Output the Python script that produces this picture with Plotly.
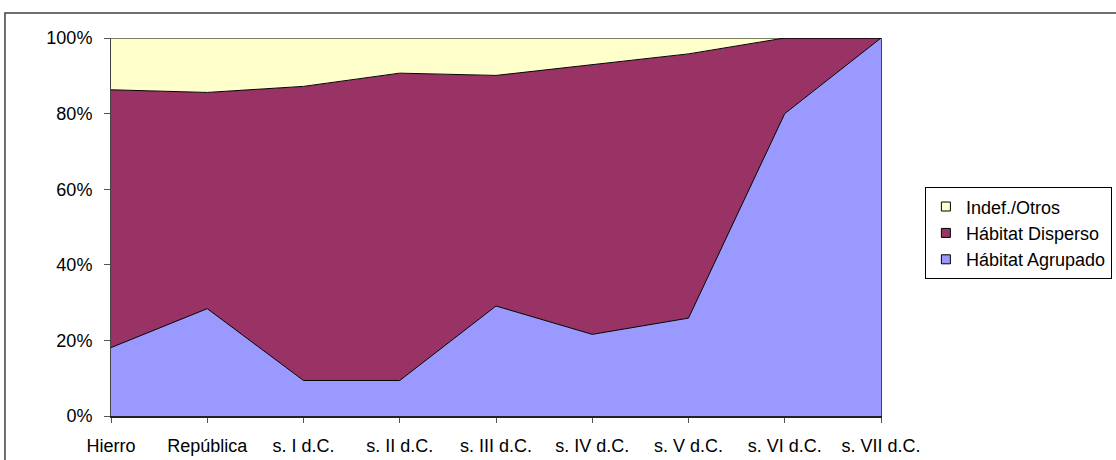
import plotly.graph_objects as go

categories = ["Hierro", "República", "s. I d.C.", "s. II d.C.", "s. III d.C.",
              "s. IV d.C.", "s. V d.C.", "s. VI d.C.", "s. VII d.C."]
agrupado = [18.1, 28.4, 9.4, 9.4, 29.1, 21.6, 25.9, 80.0, 100.0]
disperso = [68.2, 57.2, 77.8, 81.3, 61.0, 71.3, 69.9, 20.0, 0.0]
otros = [13.7, 14.4, 12.8, 9.3, 9.9, 7.1, 4.2, 0.0, 0.0]
y_ticks = [0, 20, 40, 60, 80, 100]
y_tick_labels = ["0%", "20%", "40%", "60%", "80%", "100%"]

series = [
    ("Hábitat Agrupado", agrupado, "#9999FF"),
    ("Hábitat Disperso", disperso, "#993366"),
    ("Indef./Otros", otros, "#FFFFCC"),
]

FONT = "Liberation Sans, Arial, sans-serif"
fig = go.Figure()
for name, vals, col in series:
    fig.add_trace(go.Scatter(
        x=categories, y=vals, name=name, mode="lines",
        stackgroup="one", groupnorm="percent",
        line=dict(color="black", width=1), fillcolor=col,
        showlegend=False, hoverinfo="skip",
    ))
# legend entries as square markers
for i, (name, vals, col) in enumerate(series):
    fig.add_trace(go.Scatter(
        x=[None], y=[None], name=name, mode="markers",
        marker=dict(symbol="square", size=9, color=col,
                    line=dict(color="black", width=1)),
        legendgroup=f"g{i}",
    ))

fig.update_layout(
    width=1116, height=460,
    margin=dict(l=111, r=235, t=38, b=44, autoexpand=False),
    paper_bgcolor="white", plot_bgcolor="white",
    font=dict(family=FONT, size=18, color="black"),
    showlegend=True,
    legend=dict(
        x=1.057, y=0.605, xanchor="left", yanchor="top",
        traceorder="reversed", bordercolor="black", borderwidth=1,
        bgcolor="white", font=dict(size=18), tracegroupgap=4,
        itemwidth=30,
    ),
    xaxis=dict(
        type="category", range=[0, 8], showgrid=False, zeroline=False,
        showline=True, linecolor="#222", linewidth=2,
        ticks="outside", ticklen=5, tickcolor="#555", tickwidth=1,
        ticklabelstandoff=7, tickfont=dict(size=18),
    ),
    yaxis=dict(
        range=[0, 100], tickmode="array", tickvals=y_ticks,
        ticktext=y_tick_labels,
        showgrid=False, zeroline=False, showline=True, linecolor="#444",
        linewidth=1, mirror=True,
        ticks="outside", ticklen=6, tickcolor="#555", tickwidth=1,
        ticklabelstandoff=8, tickfont=dict(size=18),
    ),
    shapes=[
        dict(type="rect", xref="paper", yref="paper",
             x0=-0.1377, x1=1.35, y0=-0.3, y1=1.066,
             line=dict(color="#404040", width=1.5), fillcolor="rgba(0,0,0,0)",
             layer="above"),
    ],
)

fig.write_html(
    "out.html",
    config={"displayModeBar": False},
    post_script="document.body.style.margin='0';document.body.style.padding='0';",
)
